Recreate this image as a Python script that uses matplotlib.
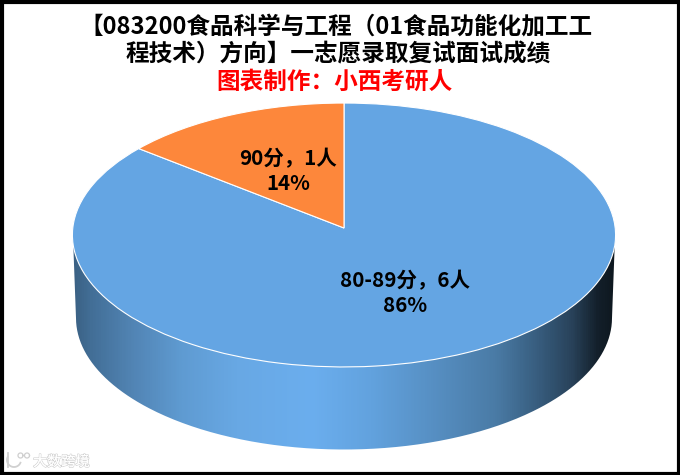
import numpy as np
import matplotlib
matplotlib.use("Agg")
import matplotlib.pyplot as plt
import matplotlib.patheffects as pe
from matplotlib.colors import LinearSegmentedColormap
from matplotlib.patches import PathPatch, Rectangle
from matplotlib.path import Path

plt.rcParams['font.family'] = ['Noto Sans CJK SC', 'DejaVu Sans']

title_lines = ["【083200食品科学与工程（01食品功能化加工工", "程技术）方向】一志愿录取复试面试成绩"]
subtitle = "图表制作：小西考研人"
categories = ["80-89分", "90分"]
counts = [6, 1]
percents = ["86%", "14%"]
colors = ["#64A5E3", "#FD873B"]
watermark = "大数跨境"

W, H = 680, 475
fig = plt.figure(figsize=(W / 100, H / 100), dpi=100, facecolor="white")
bg = fig.add_axes([0, 0, 1, 1])
bg.axis("off")

# pie geometry in pixels: a tilted disc seen in perspective
cx, apex_y, rx = 344, 228, 271.2
persp, ry_scale = 0.053, -119.5
low_cy, low_rx, low_ry = 318, 268, 131.5


def project(uv):
    d = 1 + persp * uv[:, 1]
    return np.c_[cx + rx * uv[:, 0] / d, (ry_scale * uv[:, 1] + apex_y) / d]


# side wall
edge_y = 247
t = np.linspace(0, np.pi, 300)
vx = np.r_[cx + low_rx * np.cos(t), cx - rx, cx + rx]
vy = np.r_[low_cy + low_ry * np.sin(t), edge_y - 15, edge_y - 15]
side = PathPatch(Path(np.c_[vx, vy], closed=False), fc="none", ec="none")
bg.add_patch(side)
cmap = LinearSegmentedColormap.from_list("side", [
    (0.00, "#3B6184"), (0.03, "#426E96"), (0.11, "#5285B5"), (0.20, "#5F9BD2"),
    (0.30, "#68A8E4"), (0.44, "#6BAEEE"), (0.55, "#62A2DE"), (0.66, "#5790C4"),
    (0.78, "#4A7BA6"), (0.86, "#375C7D"), (0.92, "#29435B"), (0.97, "#131F2A"),
    (1.00, "#0E171F")])
im = bg.imshow(np.linspace(0, 1, 600)[None, :], cmap=cmap, aspect="auto",
               extent=[cx - rx, cx + rx, 455, 225], zorder=1)
im.set_clip_path(side)

# pie top: library wedges, re-projected to screen space
wedges, _ = bg.pie(counts, colors=colors, startangle=90, counterclock=False, radius=1)
for w in wedges:
    p = w.get_patch_transform().transform_path(w.get_path())
    top = Path(project(p.vertices), p.codes)
    fc = w.get_facecolor()
    w.remove()
    bg.add_patch(PathPatch(top, fc=fc, ec="white", lw=0.8, zorder=2))
bg.set_aspect("auto")
bg.set_xlim(0, W); bg.set_ylim(H, 0)

# texts
tkw = dict(ha="center", va="center", fontweight="bold", zorder=5)
bg.text(336, 27, title_lines[0], fontsize=17, color="black", **tkw)
bg.text(338, 54.5, title_lines[1], fontsize=17, color="black", **tkw)
bg.text(334, 81.5, subtitle, fontsize=17, color="#FF0000", **tkw)

label_pos = [(405, 281), (288, 159)]
for (x, y), c, n, p in zip(label_pos, categories, counts, percents):
    bg.text(x, y, f"{c}，{n}人", fontsize=14.8, color="black", **tkw)
    bg.text(x, y + 24, p, fontsize=14.8, color="black", **tkw)

# watermark
wm = bg.text(33, 462, watermark, fontsize=10.2, color="white", ha="left", va="center", zorder=5)
wm.set_path_effects([pe.withStroke(linewidth=1.0, foreground="#CFCFCF"), pe.Normal()])
th = np.linspace(0, 2 * np.pi, 40)
arc = np.linspace(0.4, 3.6, 30)
bg.plot(14 + 7 * np.cos(arc), 460 + 7 * np.sin(arc), color="#D0D0D0", lw=1.3, zorder=5)
bg.plot([8, 8], [453, 467], color="#D0D0D0", lw=1.3, zorder=5)
bg.plot(20.5 + 2.5 * np.cos(th), 455.5 + 2.5 * np.sin(th), color="#CFCFCF", lw=0.9, zorder=5)
bg.plot(27 + 2.5 * np.cos(th), 455.5 + 2.5 * np.sin(th), color="#CFCFCF", lw=0.9, zorder=5)

# frame
bg.add_patch(Rectangle((1.5, 1.5), W - 3, H - 3, fill=False, ec="black", lw=3, clip_on=False, zorder=6))

fig.savefig("out.png", dpi=100, facecolor="white")
